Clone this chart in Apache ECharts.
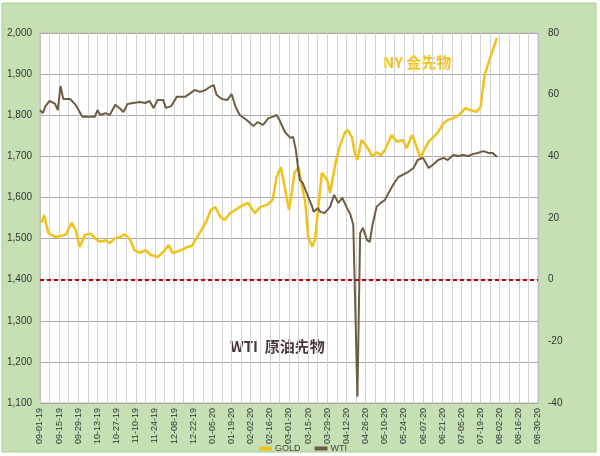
<!DOCTYPE html>
<html>
<head>
<meta charset="utf-8">
<script src="https://cdn.jsdelivr.net/npm/echarts@6/dist/echarts.min.js"></script>
<style>
  html, body { margin: 0; padding: 0; background: #fff; }
  #chart { width: 600px; height: 456px; }
</style>
</head>
<body>
<div id="chart"></div>
<script>
// x values are days since 2019-09-01
const startDate = [2019, 8, 1]

// NY gold futures (left axis)
const goldDays = [1, 3, 6, 11, 15, 19, 23, 26, 29, 33,
  37, 40, 44, 48, 51, 55, 59, 61, 63, 66,
  69, 73, 77, 81, 86, 90, 94, 97, 102, 108,
  111, 115, 118, 121, 125, 128, 132, 135, 139, 143,
  146, 152, 157, 161, 166, 170, 173, 176, 178, 181,
  182, 184, 186, 189, 191, 194, 196, 199, 201, 203,
  206, 210, 212, 216, 219, 223, 225, 228, 230, 232,
  235, 239, 243, 246, 249, 252, 257, 261, 265, 268,
  272, 274, 278, 280, 284, 287, 291, 295, 298, 302,
  306, 311, 314, 319, 322, 325, 329, 334]
const gold = [1538, 1557, 1514, 1504, 1506, 1510, 1538, 1522, 1480, 1509,
  1512, 1501, 1492, 1496, 1489, 1501, 1504, 1510, 1507, 1496,
  1472, 1465, 1472, 1460, 1455, 1467, 1484, 1465, 1470, 1480,
  1482, 1504, 1521, 1538, 1570, 1577, 1552, 1545, 1562, 1570,
  1577, 1587, 1562, 1577, 1582, 1594, 1650, 1674, 1642, 1587,
  1570, 1611, 1660, 1674, 1635, 1587, 1504, 1480, 1496, 1562,
  1660, 1642, 1611, 1684, 1723, 1759, 1764, 1747, 1708, 1691,
  1740, 1723, 1700, 1710, 1703, 1715, 1752, 1735, 1740, 1720,
  1752, 1735, 1696, 1711, 1735, 1745, 1759, 1781, 1788, 1793,
  1800, 1817, 1813, 1808, 1820, 1898, 1939, 1988]

// WTI crude futures (right axis)
const wtiDays = [0, 2, 4, 7, 11, 13, 15, 17, 22, 26,
  29, 31, 36, 40, 42, 44, 48, 51, 55, 58,
  61, 64, 68, 73, 77, 80, 83, 86, 90, 92,
  96, 100, 106, 110, 113, 117, 121, 124, 127, 129,
  133, 137, 140, 143, 146, 151, 156, 159, 163, 167,
  170, 173, 175, 179, 183, 185, 187, 189, 190, 192,
  194, 197, 199, 200, 203, 205, 208, 212, 215, 218,
  221, 224, 227, 229, 232, 234, 236, 239, 241, 243,
  246, 249, 252, 254, 258, 262, 265, 269, 273, 276,
  280, 284, 287, 291, 295, 298, 302, 306, 309, 313,
  317, 320, 324, 328, 331, 334]
const wti = [55.0, 54.0, 56.3, 58.0, 57.0, 55.0, 62.8, 58.6, 58.6, 56.7,
  54.4, 52.8, 52.8, 52.8, 55.0, 53.4, 54.0, 53.4, 56.7, 55.7,
  54.4, 57.0, 57.3, 57.6, 57.3, 58.0, 55.7, 58.3, 58.3, 55.7,
  56.3, 59.3, 59.3, 60.5, 61.5, 60.9, 61.5, 62.5, 63.1, 60.0,
  58.6, 58.3, 60.2, 56.0, 53.4, 51.8, 49.8, 51.1, 50.2, 52.4,
  52.8, 53.4, 51.8, 47.9, 46.0, 46.3, 42.1, 34.9, 32.3, 31.4,
  29.1, 25.8, 23.6, 22.0, 23.2, 22.0, 21.6, 23.6, 27.5, 24.9,
  26.5, 23.6, 21.0, 17.7, -38.0, 15.1, 16.8, 12.9, 12.2, 17.7,
  23.6, 24.9, 25.8, 27.5, 30.7, 33.3, 34.0, 34.9, 36.2, 38.8,
  39.5, 36.2, 37.2, 38.8, 39.5, 38.8, 40.4, 40.1, 40.4, 40.1,
  40.8, 41.1, 41.7, 41.1, 41.1, 39.8]

const seriesNames = ['GOLD', 'WTI']
const notes = ['NY 金先物', 'WTI  原油先物']

const pad = (n) => (n < 10 ? '0' : '') + n
function dayLabel(v) {
  if (v % 14 !== 0) return ''
  const d = new Date(startDate[0], startDate[1], startDate[2] + v)
  return pad(d.getMonth() + 1) + '-' + pad(d.getDate()) + '-' + pad(d.getFullYear() % 100)
}

const chart = echarts.init(document.getElementById('chart'))

const option = {
  backgroundColor: '#fff',
  textStyle: { fontFamily: 'Liberation Sans, Arial, sans-serif' },
  grid: {
    left: 40,
    right: 62,
    top: 33,
    bottom: 53,
    show: true,
    backgroundColor: '#fff',
    borderColor: '#bfbfbf',
    borderWidth: 1,
  },
  legend: {
    left: 254,
    top: 439,
    itemWidth: 13,
    itemHeight: 4,
    itemGap: 14,
    textStyle: { fontSize: 9, color: '#444', padding: [0, 0, 0, -2] },
    data: [
      { name: seriesNames[0], icon: 'rect' },
      { name: seriesNames[1], icon: 'rect', itemStyle: { color: '#6f5c45' } },
    ],
  },
  xAxis: {
    type: 'value',
    min: 0,
    max: 364,
    interval: 7,
    axisLine: { show: true, lineStyle: { color: '#bfbfbf' } },
    axisTick: { show: false },
    splitLine: { show: true, lineStyle: { color: '#d4d4d4', width: 1 } },
    axisLabel: {
      rotate: 90,
      fontSize: 9,
      color: '#333',
      margin: 5,
      showMinLabel: true,
      showMaxLabel: true,
      formatter: dayLabel,
    },
  },
  yAxis: [
    {
      type: 'value',
      min: 1100,
      max: 2000,
      interval: 100,
      axisLine: { show: true, lineStyle: { color: '#bfbfbf' } },
      axisTick: { show: false },
      splitLine: { lineStyle: { color: '#a9a9a9', width: 1 } },
      axisLabel: {
        fontSize: 10,
        color: '#333',
        margin: 8,
        formatter: (v) => v.toLocaleString('en-US'),
      },
    },
    {
      type: 'value',
      min: -40,
      max: 80,
      interval: 20,
      axisLine: { show: true, lineStyle: { color: '#bfbfbf' } },
      axisTick: { show: false },
      splitLine: { show: false },
      axisLabel: { fontSize: 10, color: '#333', margin: 10 },
    },
  ],
  graphic: [
    {
      type: 'rect',
      z: -100,
      silent: true,
      shape: { x: 2, y: 3, width: 594, height: 449 },
      style: { fill: '#c6e0b4', stroke: '#a8cf91', lineWidth: 1 },
    },
    {
      type: 'text',
      left: 383,
      top: 55,
      silent: true,
      style: {
        text: notes[0],
        fill: '#f0c21a',
        font: 'bold 15px "Noto Sans CJK JP", sans-serif',
      },
    },
    {
      type: 'text',
      left: 230,
      top: 339,
      silent: true,
      style: {
        text: notes[1],
        fill: '#4a3540',
        font: 'bold 15px "Noto Sans CJK JP", sans-serif',
      },
    },
  ],
  series: [
    {
      name: seriesNames[0],
      type: 'line',
      yAxisIndex: 0,
      showSymbol: false,
      symbol: 'none',
      z: 3,
      lineStyle: { color: '#f0c21a', width: 2.5 },
      itemStyle: { color: '#f0c21a' },
      data: goldDays.map((d, i) => [d, gold[i]]),
      markLine: {
        silent: true,
        symbol: 'none',
        label: { show: false },
        lineStyle: { color: '#c00000', type: [4, 3], width: 2 },
        data: [{ yAxis: 1400 }],
      },
    },
    {
      name: seriesNames[1],
      type: 'line',
      yAxisIndex: 1,
      showSymbol: false,
      symbol: 'none',
      z: 4,
      lineStyle: { color: '#6f5c45', width: 2 },
      itemStyle: { color: '#6f5c45' },
      data: wtiDays.map((d, i) => [d, wti[i]]),
    },
  ],
}

chart.setOption(option)
</script>
</body>
</html>
